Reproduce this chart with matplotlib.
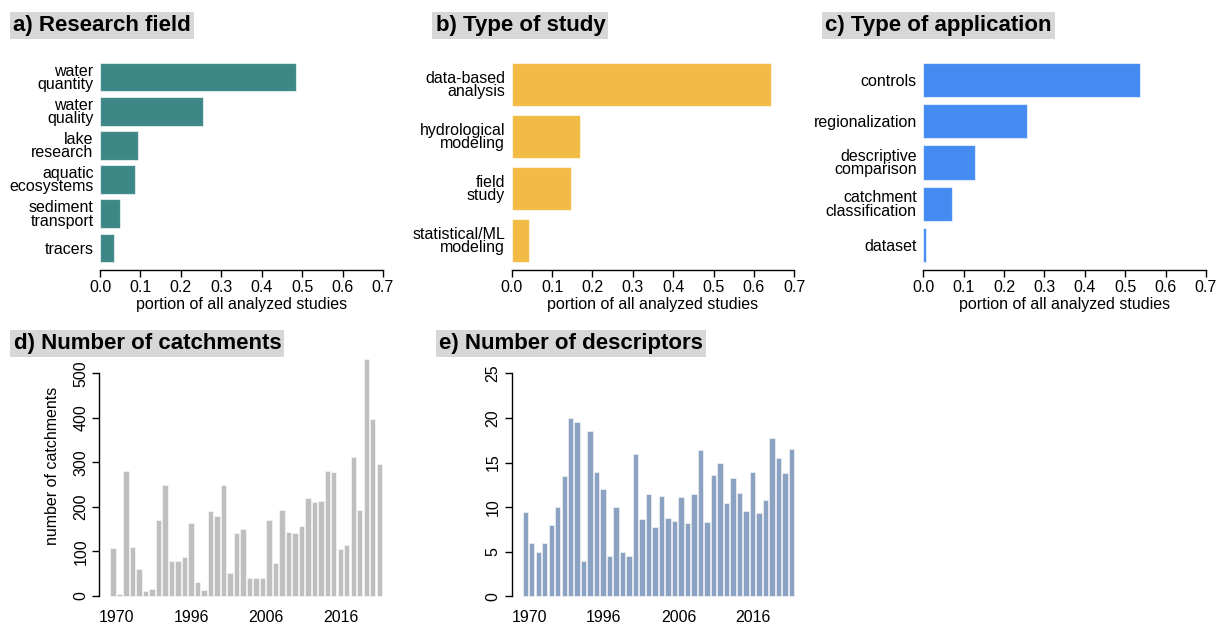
import matplotlib
matplotlib.use("Agg")
import matplotlib.pyplot as plt
import numpy as np

plt.rcParams['font.family'] = ['Liberation Sans', 'DejaVu Sans']

# share of studies per category (top row)
research_fields = ['water\nquantity', 'water\nquality', 'lake\nresearch',
                   'aquatic\necosystems', 'sediment\ntransport', 'tracers']
research_share = [0.485, 0.254, 0.094, 0.086, 0.049, 0.035]

study_types = ['data-based\nanalysis', 'hydrological\nmodeling', 'field\nstudy',
               'statistical/ML\nmodeling']
study_share = [0.642, 0.169, 0.148, 0.043]

applications = ['controls', 'regionalization', 'descriptive\ncomparison',
                'catchment\nclassification', 'dataset']
application_share = [0.537, 0.257, 0.128, 0.071, 0.006]

# per-study counts (bottom row)
n_catchments = [107, 4.5, 281, 111, 60, 11, 15, 170, 249, 78, 78, 87, 164, 31,
                13.5, 191, 180, 249, 52, 141, 150, 41, 41, 41, 171, 73, 193,
                144, 141, 157, 219, 210, 213, 281, 279, 105, 114, 313, 192,
                531, 397, 296]
n_descriptors = [9.5, 6.0, 5.0, 6.0, 8.0, 10.0, 13.5, 20.0, 19.5, 4.0, 18.5,
                 14.0, 12.0, 4.5, 10.0, 5.0, 4.5, 16.0, 8.7, 11.5, 7.75, 11.3,
                 8.75, 8.5, 11.1, 8.2, 11.5, 16.4, 8.35, 13.6, 15.0, 10.5,
                 13.25, 11.6, 9.6, 14.0, 9.4, 10.8, 17.8, 15.5, 13.8, 16.5]
year_labels = ['1970', '1996', '2006', '2016']

W, H = 1230, 625
fig = plt.figure(figsize=(W / 100, H / 100), dpi=100)


def px_axes(left, top, right, bottom):
    return fig.add_axes([left / W, 1 - bottom / H, (right - left) / W, (bottom - top) / H])


def title_box(x, y, text):
    fig.text(x / W, 1 - y / H, text, fontsize=16, fontweight='bold', va='baseline',
             bbox=dict(facecolor='#d7d7d7', edgecolor='none', pad=2.2))


def hbar_panel(left, right, labels, values, color):
    ax = px_axes(left, 55, right, 270)
    n = len(labels)
    pos = 0.7 + 1.2 * np.arange(n)[::-1]
    ax.barh(pos, values, height=1.0, color=color, edgecolor=(1, 1, 1, 0.6), linewidth=0.8)
    span = 1.2 * n - 0.2
    ax.set_ylim(0.2 - 0.04 * span, 1.2 * n + 0.04 * span)
    ax.set_xlim(-0.028, 0.728)
    ax.set_yticks(pos)
    ax.set_yticklabels(labels, fontsize=11.5, linespacing=0.86)
    ax.tick_params(axis='y', length=0, pad=-3.5)
    ax.set_xticks(np.arange(0, 0.71, 0.1))
    ax.set_xticklabels(['%.1f' % t for t in np.arange(0, 0.71, 0.1)], fontsize=11.5)
    ax.tick_params(axis='x', length=5, width=1, pad=2)
    ax.set_xlabel('portion of all analyzed studies', fontsize=11.5, labelpad=2)
    for s in ['top', 'right', 'left']:
        ax.spines[s].set_visible(False)
    ax.spines['bottom'].set_bounds(0, 0.7)
    ax.spines['bottom'].set_linewidth(1)
    return ax


def vbar_panel(left, top, values, color, ylim, yticks):
    ax = px_axes(left, top, left + 293.3, 605.4)
    n = len(values)
    pos = 0.7 + 1.2 * np.arange(n)
    ax.bar(pos, values, width=1.0, color=color, edgecolor=(1, 1, 1, 0.6), linewidth=0.6)
    ax.set_xlim(-1.808, 52.408)
    ax.set_ylim(*ylim)
    ax.set_yticks(yticks)
    ax.set_yticklabels([str(t) for t in yticks], rotation=90, va='center', fontsize=11.5)
    ax.tick_params(axis='y', length=5, width=1, pad=3)
    tick_idx = np.array([0.0, 11.5, 23.0, 34.5])
    ax.set_xticks(0.7 + 1.2 * (tick_idx + 0.6))
    ax.set_xticklabels(year_labels, fontsize=11.5)
    ax.tick_params(axis='x', length=0, pad=3)
    for s in ['top', 'right', 'bottom']:
        ax.spines[s].set_visible(False)
    ax.spines['left'].set_bounds(yticks[0], yticks[-1])
    ax.spines['left'].set_linewidth(1)
    return ax


hbar_panel(88.7, 394.3, research_fields, research_share, '#3d8886')
hbar_panel(500.4, 805.6, study_types, study_share, '#f2bb45')
hbar_panel(912.0, 1217.3, applications, application_share, '#458cf2')

# bottom row: top edge chosen so that 0 sits at y=596 px in both panels
ax_d = vbar_panel(99.5, 350.5, n_catchments, '#bfbfbf', (-21.2, 551.2),
                  [0, 100, 200, 300, 400, 500])
ax_d.set_ylabel('number of catchments', fontsize=11.5)
ax_d.yaxis.set_label_coords(-0.135, 0.547)

ax_e = vbar_panel(511.7, 364.4, n_descriptors, '#8ca2c3', (-1, 26),
                  [0, 5, 10, 15, 20, 25])

title_box(12.7, 30.7, 'a) Research field')
title_box(435.5, 30.7, 'b) Type of study')
title_box(825.0, 30.7, 'c) Type of application')
title_box(13.5, 348.7, 'd) Number of catchments')
title_box(439.0, 348.7, 'e) Number of descriptors')

fig.savefig('out.png', dpi=100)
